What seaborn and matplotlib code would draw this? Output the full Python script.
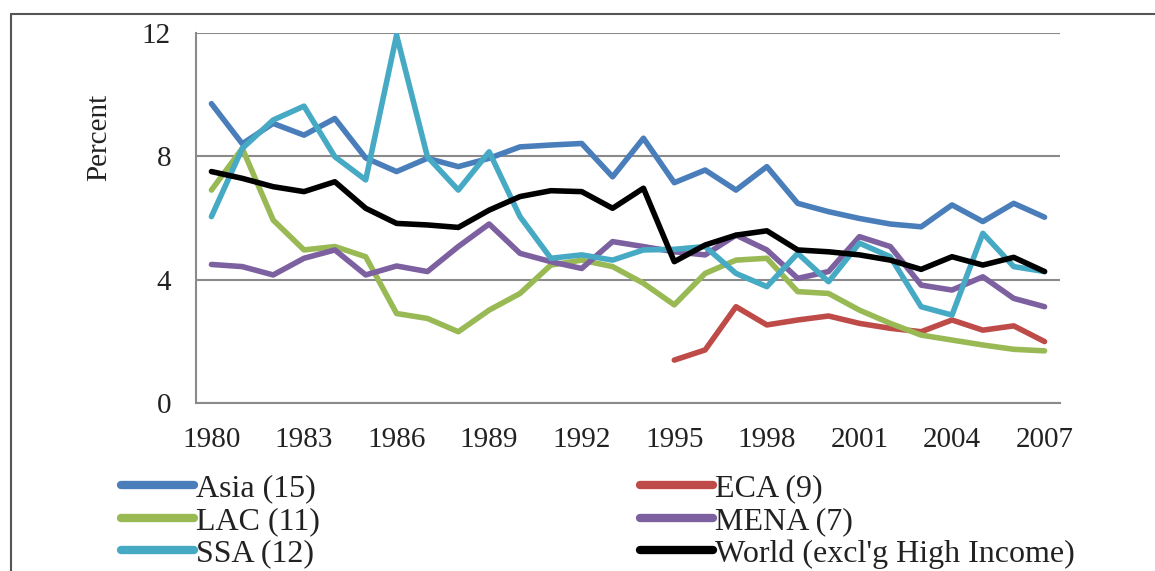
import numpy as np
import pandas as pd
import matplotlib
matplotlib.use('Agg')
import matplotlib.pyplot as plt
from matplotlib.lines import Line2D
import seaborn as sns

# --- data ---
years = list(range(1980, 2008))
asia = [9.70, 8.40, 9.06, 8.68, 9.22, 7.94, 7.50, 7.93, 7.66, 7.93, 8.30, 8.36, 8.41, 7.33,
        8.58, 7.14, 7.55, 6.90, 7.66, 6.47, 6.20, 5.98, 5.80, 5.71, 6.42, 5.88, 6.47, 6.02]
eca = [np.nan] * 15 + [1.39, 1.72, 3.12, 2.53, 2.69, 2.82, 2.58, 2.42, 2.31, 2.69, 2.36, 2.50, 1.99]
lac = [6.90, 8.25, 5.93, 4.96, 5.07, 4.74, 2.90, 2.74, 2.31, 3.01, 3.55, 4.47, 4.63, 4.42,
       3.88, 3.18, 4.20, 4.63, 4.69, 3.61, 3.55, 3.01, 2.58, 2.20, 2.04, 1.88, 1.74, 1.69]
mena = [4.49, 4.42, 4.15, 4.69, 4.96, 4.15, 4.44, 4.26, 5.07, 5.80, 4.85, 4.58, 4.36, 5.23,
        5.07, 4.90, 4.80, 5.44, 4.96, 4.04, 4.26, 5.39, 5.07, 3.82, 3.66, 4.09, 3.39, 3.12]
ssa = [6.04, 8.25, 9.17, 9.62, 7.98, 7.23, 11.92, 7.98, 6.90, 8.14, 6.04, 4.69, 4.80, 4.63,
       4.96, 4.98, 5.07, 4.20, 3.77, 4.85, 3.93, 5.18, 4.74, 3.12, 2.85, 5.50, 4.42, 4.26]
world = [7.50, 7.28, 7.01, 6.85, 7.17, 6.31, 5.82, 5.77, 5.69, 6.25, 6.69, 6.88, 6.85, 6.31,
         6.96, 4.58, 5.12, 5.44, 5.58, 4.96, 4.90, 4.80, 4.63, 4.33, 4.74, 4.47, 4.72, 4.26]

regions = ['Asia (15)', 'ECA (9)', 'LAC (11)', 'MENA (7)', 'SSA (12)', 'World (excl\'g High Income)']
series = [asia, eca, lac, mena, ssa, world]
colors = ['#4A7EBB', '#BE4B48', '#98B954', '#7D60A0', '#46AAC5', '#000000']
tick_years = list(range(1980, 2008, 3))
y_ticks = [0, 4, 8, 12]

df = pd.DataFrame({
    'year': years * len(regions),
    'value': sum(series, []),
    'region': sum([[r] * len(years) for r in regions], []),
})

# --- style ---
sns.set_theme(style='white')
plt.rcParams['font.family'] = ['Liberation Serif', 'DejaVu Serif']

fig = plt.figure(figsize=(11.55, 5.71), dpi=100)
ax = fig.add_axes([196 / 1155, 1 - 403 / 571, 864 / 1155, 370.3 / 571])

sns.lineplot(data=df, x='year', y='value', hue='region', hue_order=regions,
             palette=dict(zip(regions, colors)), linewidth=4, legend=False, ax=ax)

ax.set_xlim(1979.5, 2007.5)
ax.set_ylim(0, 12)
ax.set_xticks(tick_years)
ax.set_yticks(y_ticks)
ax.tick_params(axis='both', labelsize=21, length=0, colors='#222222')
ax.tick_params(axis='y', pad=18)
ax.tick_params(axis='x', pad=17)
ax.set_xlabel('')
ax.set_ylabel('')
ax.grid(axis='y', color='#8a8a8a', linewidth=1.5)
ax.set_axisbelow(True)
for side in ['top', 'right']:
    ax.spines[side].set_visible(False)
for side in ['left', 'bottom']:
    ax.spines[side].set_color('#8a8a8a')
    ax.spines[side].set_linewidth(1.5)

fig.text(99 / 1155, 1 - 137 / 571, 'Percent', rotation=90, ha='center', va='center',
         fontsize=21, color='#222222')

# legend below: column 1 Asia/LAC/SSA, column 2 ECA/MENA/World
order = [0, 2, 4, 1, 3, 5]
handles = [Line2D([], [], color=colors[i], linewidth=6, solid_capstyle='round') for i in order]
labels = [regions[i] for i in order]
fig.legend(handles, labels, ncol=2, loc='upper left', bbox_to_anchor=(121 / 1155, 1 - 474 / 571),
           frameon=False, fontsize=23, handlelength=2.3, handletextpad=0.06,
           columnspacing=10.0, labelspacing=0.1, borderpad=0, borderaxespad=0,
           labelcolor='#222222')

# thin frame around the figure (top and left edges visible)
fig.add_artist(Line2D([11 / 1155, 1], [1 - 14 / 571, 1 - 14 / 571], color='#555555', linewidth=1.5))
fig.add_artist(Line2D([11 / 1155, 11 / 1155], [0, 1 - 14 / 571], color='#555555', linewidth=1.5))

fig.savefig('out.png', dpi=100)
